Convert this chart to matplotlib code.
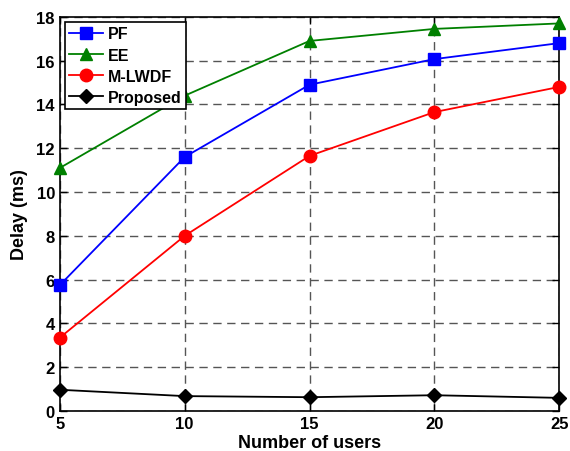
import matplotlib
matplotlib.use('Agg')
import matplotlib.pyplot as plt

plt.rcParams['font.family'] = ['Liberation Sans', 'DejaVu Sans']
plt.rcParams['font.weight'] = 'bold'

# number of users
users = [5, 10, 15, 20, 25]
# delay (ms) per scheme
pf = [5.75, 11.6, 14.9, 16.07, 16.8]
ee = [11.1, 14.4, 16.9, 17.45, 17.7]
mlwdf = [3.35, 8.0, 11.65, 13.65, 14.8]
proposed = [0.97, 0.68, 0.63, 0.72, 0.6]

fig = plt.figure(figsize=(5.7, 4.52), dpi=100)
ax = fig.add_axes([0.105, 0.0885, 0.876, 0.872])

ax.plot(users, pf, '-s', color='blue', markersize=8, linewidth=1.3, label='PF', clip_on=False, zorder=5)
ax.plot(users, ee, '-^', color='green', markersize=9, linewidth=1.3, label='EE', clip_on=False, zorder=5)
ax.plot(users, mlwdf, '-o', color='red', markersize=9, linewidth=1.3, label='M-LWDF', clip_on=False, zorder=5)
ax.plot(users, proposed, '-D', color='black', markersize=7, linewidth=1.3, label='Proposed', clip_on=False, zorder=5)

ax.set_xlim(5, 25)
ax.set_ylim(0, 18)
ax.set_xticks(users)
ax.set_yticks(range(0, 19, 2))
ax.grid(True, linestyle=(0, (6, 4)), color='#555555', linewidth=1.0)
ax.tick_params(direction='in', length=5, width=1, labelsize=12, right=True, top=True)
for lab in ax.get_xticklabels() + ax.get_yticklabels():
    lab.set_fontweight('bold')
for s in ax.spines.values():
    s.set_linewidth(1.2)

ax.set_xlabel('Number of users', fontsize=13, fontweight='bold', labelpad=2)
ax.set_ylabel('Delay (ms)', fontsize=13, fontweight='bold', labelpad=6)

leg = ax.legend(loc='upper left', fontsize=11.5, fancybox=False, framealpha=1,
                edgecolor='black', borderaxespad=0.3, handlelength=2.1,
                labelspacing=0.38, borderpad=0.3, handletextpad=0.3)
leg.get_frame().set_linewidth(1.2)
for t in leg.get_texts():
    t.set_fontweight('bold')

fig.savefig('out.png', dpi=100)
